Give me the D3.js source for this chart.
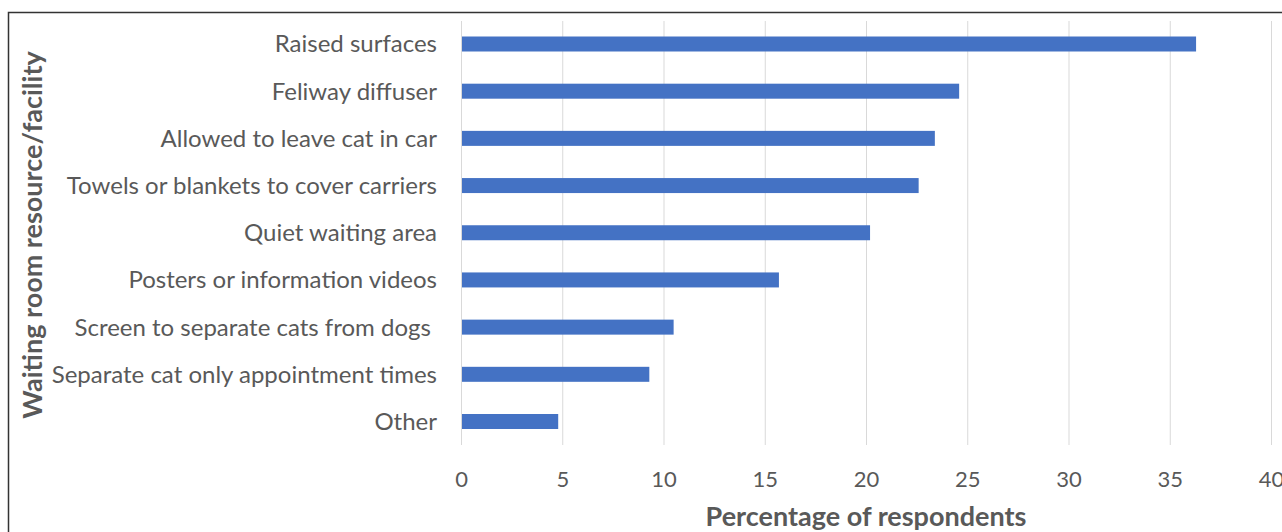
<!DOCTYPE html>
<html><head><meta charset="utf-8">
<script src="https://cdn.jsdelivr.net/npm/d3@7"></script>
<style>
body{margin:0;background:#fff;}
svg text{font-family:Lato,"Open Sans",sans-serif;}
</style></head>
<body>
<svg id="chart" width="1282" height="532"></svg>
<script>
const categories = ["Raised surfaces","Feliway diffuser","Allowed to leave cat in car","Towels or blankets to cover carriers","Quiet waiting area","Posters or information videos","Screen to separate cats from dogs ","Separate cat only appointment times","Other"];
const values = [36.3, 24.6, 23.4, 22.6, 20.2, 15.7, 10.5, 9.3, 4.8];
const xTicks = [0,5,10,15,20,25,30,35,40];
const xTitle = "Percentage of respondents";
const yTitle = "Waiting room resource/facility";

(function(){
const svg = d3.select("#chart");
const pL = 461, pR = 1271, pT = 21, pB = 445;
const barH = 15;
const x = d3.scaleLinear().domain([0,40]).range([pL,pR]);
const y = d3.scalePoint().domain(categories).range([44, 421.5]);

// frame
svg.append("path").attr("d",`M8.5,532 L8.5,12.5 L1282,12.5`).attr("fill","none").attr("stroke","#333").attr("stroke-width",1.5);

// gridlines
svg.append("g").selectAll("line").data(xTicks).join("line")
  .attr("x1",d=>x(d)+0.5).attr("x2",d=>x(d)+0.5).attr("y1",pT).attr("y2",pB)
  .attr("stroke","#d9d9d9").attr("stroke-width",1);

// bars
svg.append("g").selectAll("rect").data(values).join("rect")
  .attr("x",x(0)+1).attr("y",(d,i)=>y(categories[i])-barH/2)
  .attr("width",d=>x(d)-x(0)-1).attr("height",barH)
  .attr("fill","#4472c4");

// y labels
svg.append("g").selectAll("text").data(categories).join("text")
  .attr("x",pL-24).attr("y",d=>y(d))
  .attr("dy","0.35em").attr("text-anchor","end")
  .style("white-space","pre")
  .attr("font-size",24).attr("fill","#595959").text(d=>d);

// x axis tick labels
const xAxis = d3.axisBottom(x).tickValues(xTicks).tickSize(0).tickPadding(0);
const gx = svg.append("g").attr("transform",`translate(0,${pB+26})`).call(xAxis);
gx.select(".domain").remove();
gx.selectAll("text").attr("font-size",22).attr("fill","#595959").attr("font-family","Lato");

// titles
svg.append("text").attr("x",(pL+pR)/2).attr("y",526).attr("text-anchor","middle")
  .attr("font-size",27).attr("font-weight","bold").attr("fill","#595959").text(xTitle);
svg.append("text").attr("transform","translate(42,235) rotate(-90)").attr("text-anchor","middle")
  .attr("font-size",27).attr("font-weight","bold").attr("fill","#595959").text(yTitle);
})();
</script>
</body></html>
